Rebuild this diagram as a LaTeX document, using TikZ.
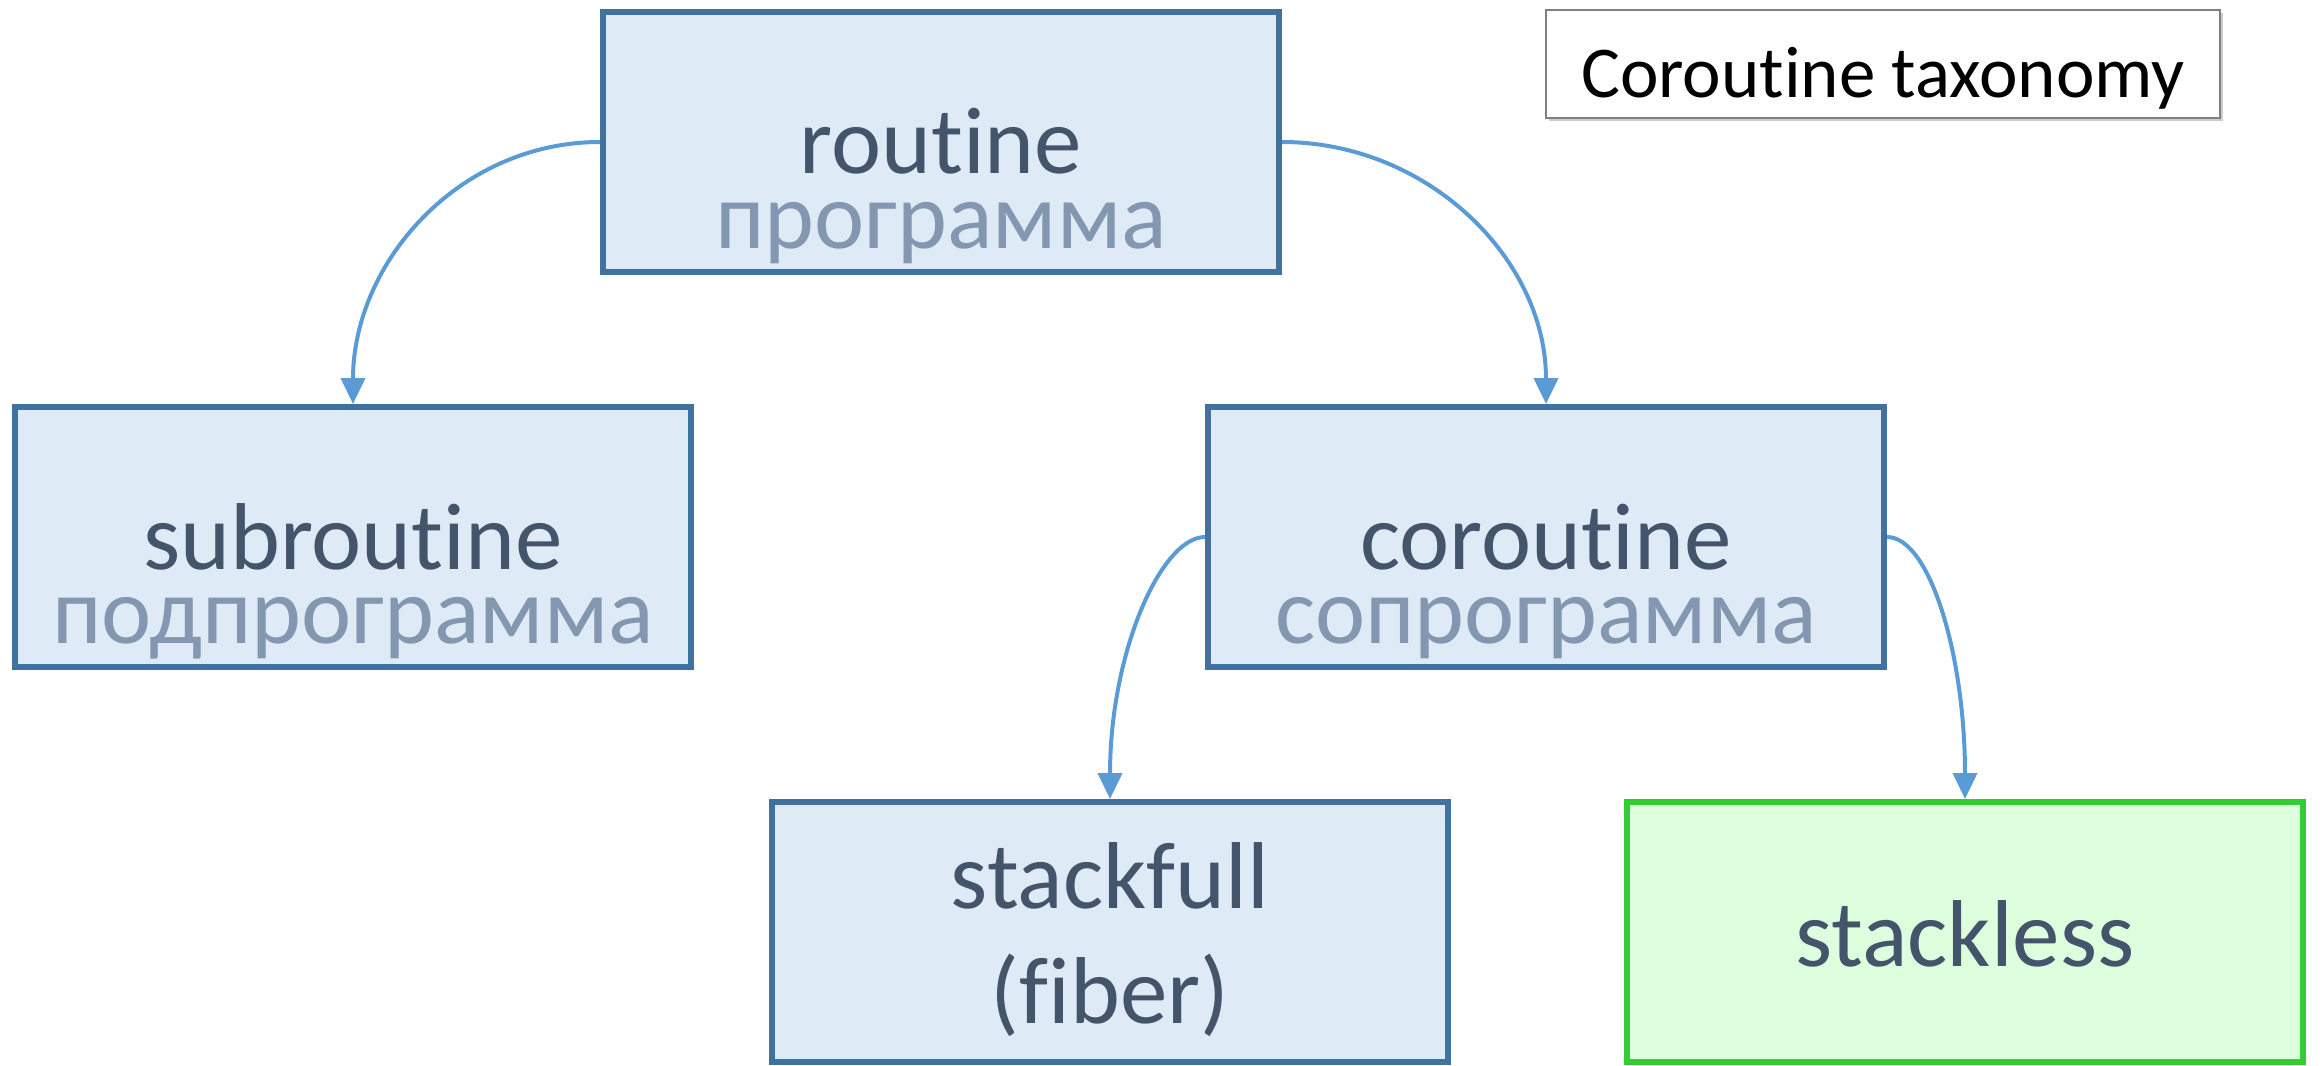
\documentclass[tikz,border=0pt]{standalone}
\usepackage{fontspec}
\setmainfont{Carlito}[Ligatures=NoCommon]
\usetikzlibrary{arrows.meta,shadows,calc}
\definecolor{boxline}{HTML}{41719C}
\definecolor{boxfill}{HTML}{DEEBF7}
\definecolor{greenline}{HTML}{33CC33}
\definecolor{greenfill}{HTML}{DDFFDD}
\definecolor{textdark}{HTML}{44546A}
\definecolor{textlight}{HTML}{8497B0}
\definecolor{arrowc}{HTML}{5B9BD5}
\newcommand{\bigtxt}{\fontsize{47.5pt}{57pt}\selectfont}
\newcommand{\titletxt}{\fontsize{36.5pt}{44pt}\selectfont}
\begin{document}
\begin{tikzpicture}[x=0.5pt,y=0.5pt,
  box/.style={draw=boxline, fill=boxfill, line width=3pt, minimum width=338pt, minimum height=130pt, inner sep=0pt},
  greenbox/.style={box, draw=greenline, fill=greenfill},
  en/.style={text=textdark, font=\bigtxt, anchor=base, inner sep=0pt},
  ru/.style={text=textlight, font=\bigtxt, anchor=base, inner sep=0pt},
  titlebox/.style={draw=black!50, line width=1pt, fill=white, minimum width=337pt, minimum height=54pt, inner sep=0pt,
    drop shadow={shadow xshift=1.5pt, shadow yshift=-1.5pt, fill=black, opacity=0.2}},
  conn/.style={draw=arrowc, line width=2pt, -{Triangle[width=12pt,length=13pt]}}
]
\useasboundingbox (0,0) rectangle (2320,-1066);

% title
\node[titlebox] (title) at (1883,-64) {};
\node[text=black, font=\titletxt, anchor=base, inner sep=0pt] (titletext) at ($(title.center)+(0,-33)$) {Coroutine taxonomy};

% boxes
\node[box] (routine) at (941,-142) {};
\node[en] (routineEn) at ($(routine.center)+(0,-31)$) {routine};
\node[ru] (routineRu) at ($(routine.center)+(0,-106)$) {программа};

\node[box] (subroutine) at (353,-537) {};
\node[en] (subEn) at ($(subroutine.center)+(0,-32)$) {subroutine};
\node[ru] (subRu) at ($(subroutine.center)+(0,-106)$) {подпрограмма};

\node[box] (coroutine) at (1546,-537) {};
\node[en] (coEn) at ($(coroutine.center)+(0,-32)$) {coroutine};
\node[ru] (coRu) at ($(coroutine.center)+(0,-106)$) {сопрограмма};

\node[box] (stackfull) at (1110,-932) {};
\node[en] (sfA) at ($(stackfull.center)+(0,24)$) {stackfull};
\node[en] (sfB) at ($(stackfull.center)+(0,-91)$) {(fiber)};

\node[greenbox] (stackless) at (1965,-932) {};
\node[en] (slA) at ($(stackless.center)+(0,-34)$) {stackless};

% connectors
\draw[conn] (routine.west) to[out=180,in=90] (subroutine.north);
\draw[conn] (routine.east) to[out=0,in=90] (coroutine.north);
\draw[conn] (coroutine.west) to[out=180,in=90,out looseness=0.4,in looseness=1.35] (stackfull.north);
\draw[conn] (coroutine.east) to[out=0,in=90,out looseness=0.4,in looseness=1.35] (stackless.north);
\end{tikzpicture}
\end{document}
